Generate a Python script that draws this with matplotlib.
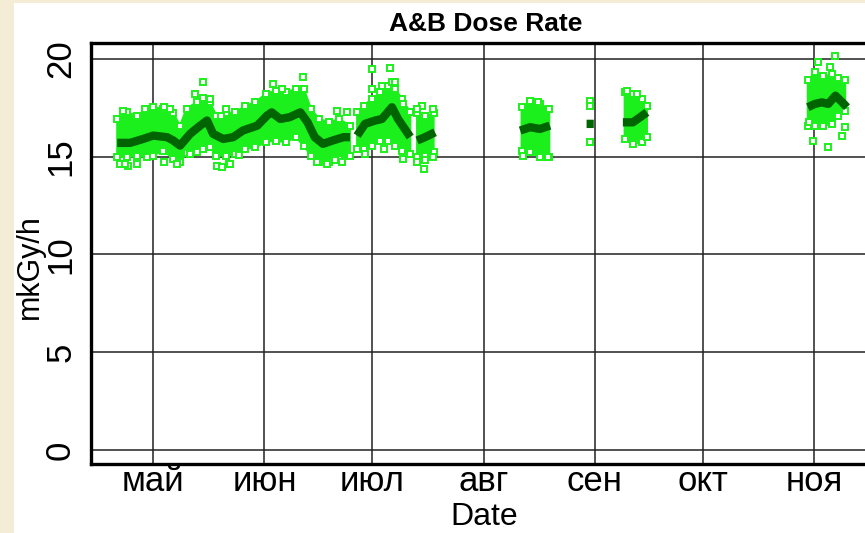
import numpy as np
import matplotlib.pyplot as plt
from matplotlib.patches import Rectangle

nan = np.nan

# days counted from 1 May; NaN separates gaps in the record
mean_day = [-10, -6.4, -2.8, 0, 3.9, 5.6, 7.5, 10.3, 13.1, 15, 16.7, 19.5, 22.3,
            25, 29, 31.7, 33, 35.4, 38, 41, 43, 45, 47.3, 50, 53, 54.8, nan,
            56.8, 59, 61.8, 63.7, 66.5, 68.2, 70.7, 71.6, nan,
            73.5, 75.7, 78.5, nan,
            102.2, 105, 107.7, 110.5, nan,
            120.7, 122.7, nan,
            130.8, 133.6, 135.6, 137.5, nan,
            182.3, 184.3, 186.2, 188, 190, 191.9, 193.2]
mean_val = [15.70, 15.70, 15.90, 16.07, 15.99, 15.82, 15.56, 16.16, 16.58, 16.84, 16.16, 15.90, 15.99,
            16.33, 16.58, 17.09, 17.26, 16.92, 17.01, 17.26, 16.75, 15.99, 15.65, 15.82, 15.99, 15.99, nan,
            16.07, 16.67, 16.84, 16.92, 17.52, 16.92, 16.24, 16.00, nan,
            15.82, 15.99, 16.24, nan,
            16.33, 16.50, 16.41, 16.58, nan,
            16.67, 16.67, nan,
            16.75, 16.75, 17.01, 17.26, nan,
            17.52, 17.69, 17.77, 17.69, 18.11, 17.77, 17.52]

# spread of the hourly readings (dense part)
band_day = [-10, -7.2, -4.5, -1.7, 0, 2.8, 5.6, 7.5, 9.3, 12.1, 14, 15.8, 17.6, 20.4,
            22.9, 25.7, 28.5, 31.3, 34.1, 36.9, 39.7, 42, 43.9, 46.2, 49, 51.8, 54.8, nan,
            56.8, 58.6, 60.9, 63.2, 65.5, 67.4, 69.3, 71.6, nan,
            73.5, 75.8, 78.1, nan,
            102.6, 105, 107.7, 110.3, nan,
            131.3, 133.6, 136, 137.5, nan,
            182.3, 184.3, 186.6, 189, 190.8, 192.7]
band_hi = [16.9, 17.26, 17.09, 17.45, 17.52, 17.45, 17.2, 16.58, 17.45, 17.77, 18.0, 17.77, 17.09, 17.2,
           17.26, 17.6, 17.77, 18.2, 18.37, 18.28, 18.45, 18.45, 17.45, 16.92, 16.75, 16.92, 16.58, nan,
           17.26, 17.6, 17.94, 18.28, 18.6, 18.45, 17.94, 17.26, nan,
           17.2, 17.09, 17.2, nan,
           17.52, 17.77, 17.69, 17.43, nan,
           18.28, 18.2, 17.94, 17.6, nan,
           18.9, 19.3, 19.1, 19.2, 19.0, 18.9]
band_lo = [15.0, 14.96, 15.05, 14.96, 15.05, 15.3, 14.9, 14.7, 15.2, 15.22, 15.4, 15.48, 15.05, 15.05,
           15.13, 15.39, 15.48, 15.73, 15.82, 15.73, 15.99, 15.56, 15.05, 14.7, 14.7, 14.9, 15.05, nan,
           15.39, 15.39, 15.56, 15.82, 15.8, 15.56, 15.31, 15.14, nan,
           14.96, 15.05, 15.22, nan,
           15.31, 15.22, 14.96, 14.96, nan,
           15.9, 15.65, 15.73, 15.99, nan,
           16.58, 16.58, 16.58, 16.67, 17.09, 17.35]

# isolated readings outside the dense part
pt_day = [-8.3, -9.2, -6.9, -4.5, -7.7, -2.2, 2.9, 4.8, 2.9, 6.6, 10.3, 11.7, 14, 15.8,
          17.7, 19.1, 21, 20.3, 18.8, 33.5, 41.8, 35.8, 23.8, 45.6, 48.3, 50.6, 52.5,
          51.1, 53.9, 21.4, 60.9, 66, 60.9, 63.7, 66.5, 67.4, 59, 64.2, 69.7, 69.7,
          74.8, 78, 73.5, 73.5, 75.3, 78, 75.8, 105, 107.3, 103.1, 110, 121.7, 121.7,
          121.7, 131.9, 134.7, 189.9, 185.1, 188.6, 192.6, 191.7, 183.8, 188, 182.7]
pt_val = [17.35, 14.63, 14.54, 14.63, 14.63, 17.43, 17.52, 17.43, 14.71, 14.63, 15.14, 18.2, 18.79, 17.94,
          14.54, 14.46, 14.63, 17.43, 17.09, 18.71, 19.05, 18.45, 15.1, 14.71, 14.63, 14.8, 14.71,
          17.35, 17.26, 14.63, 19.47, 19.5, 18.45, 18.62, 18.79, 18.79, 15.14, 15.39, 14.88, 17.69,
          17.6, 17.43, 17.43, 14.71, 14.37, 14.96, 14.8, 17.86, 17.77, 15.05, 14.96, 17.86, 17.6,
          15.73, 18.37, 18.2, 20.15, 19.81, 19.56, 16.5, 16.07, 15.82, 15.48, 16.75]

month_day = [0, 31, 61, 92, 123, 153, 184]
month_lbl = ['май', 'июн', 'июл', 'авг', 'сен', 'окт', 'ноя']
y_ticks = [0, 5, 10, 15, 20]

green = '#1cf01c'
dark = '#006400'

plt.rcParams['font.family'] = ['Liberation Sans', 'DejaVu Sans']

fig = plt.figure(figsize=(8.65, 5.33), dpi=100, facecolor='#f5ecd5')
# white slide area behind the plot
fig.patches.append(Rectangle((14 / 865, 0), 1, 1 - 3 / 533, transform=fig.transFigure,
                             facecolor='white', edgecolor='none', zorder=-10))
ax = fig.add_axes([91 / 865, 1 - 464 / 533, 789 / 865, 421 / 533])

sq = dict(ls='none', marker='s', ms=4.2, mfc='white', mec=green, mew=1.4, zorder=3)
ax.fill_between(band_day, band_lo, band_hi, color=green, linewidth=1.5, edgecolor=green, zorder=3)
ax.plot(band_day, band_hi, **sq)
ax.plot(band_day, band_lo, **sq)
ax.plot(pt_day, pt_val, **sq)
ax.plot(mean_day, mean_val, '-', color=dark, lw=6, solid_capstyle='butt', zorder=4)

ax.set_xlim(-17.3, 202.4)
ax.set_ylim(-0.7, 20.8)
ax.set_xticks(month_day, month_lbl)
ax.set_yticks(y_ticks)
ax.grid(True, color='#222222', lw=1.1)
ax.set_axisbelow(True)
ax.tick_params(length=0, labelsize=25)
ax.tick_params(axis='x', pad=1)
ax.tick_params(axis='y', pad=10)
for t in ax.get_yticklabels():
    t.set_rotation(90)
    t.set_va('center')
for s in ax.spines.values():
    s.set_linewidth(2.4)

ax.set_title('A&B Dose Rate', fontsize=19, fontweight='bold', pad=9)
ax.set_xlabel('Date', fontsize=23)
ax.xaxis.set_label_coords((484 - 91) / 789, -0.09)
ax.set_ylabel('mkGy/h', fontsize=22)
ax.yaxis.set_label_coords(-0.058, 0.47)

fig.savefig('out.png', dpi=100, facecolor=fig.get_facecolor())
